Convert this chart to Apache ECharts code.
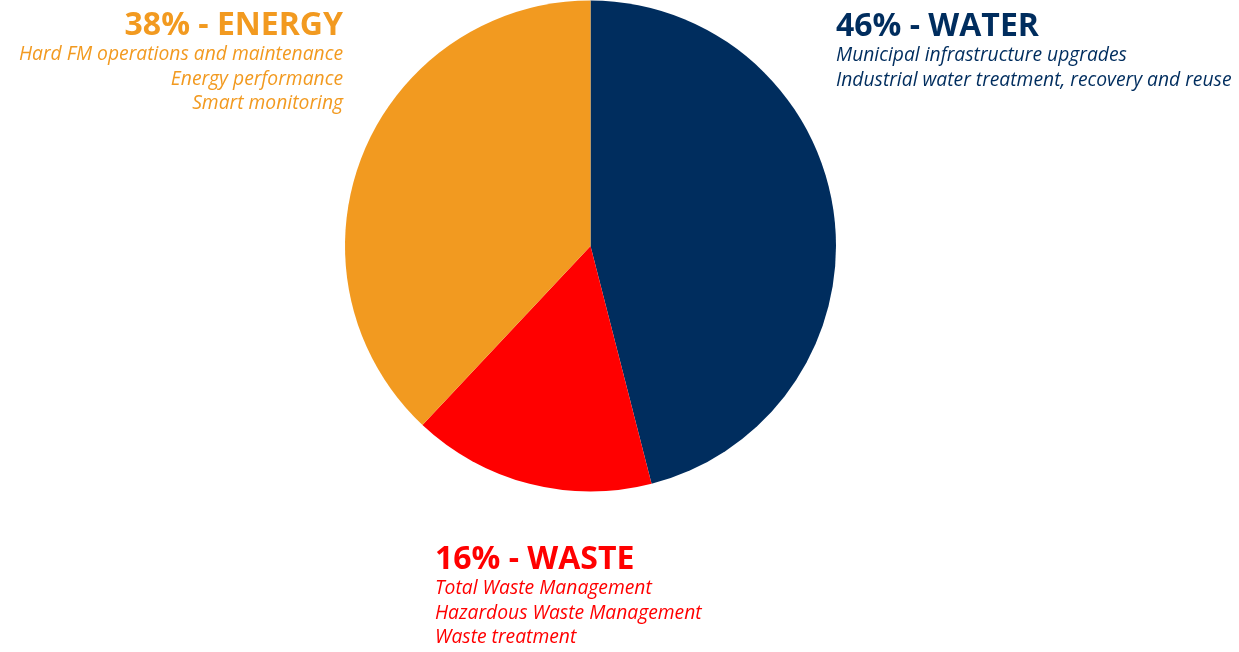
<!DOCTYPE html>
<html><head><meta charset="utf-8">
<script src="https://cdn.jsdelivr.net/npm/echarts@6/dist/echarts.min.js"></script>
<style>html,body{margin:0;padding:0;background:#fff}#c{width:1239px;height:652px}</style>
</head><body><div id="c"></div>
<script>
const categories = ['WATER', 'WASTE', 'ENERGY'];
const values = [46, 16, 38];
const colors = ['#002d5e', '#ff0000', '#f29a20'];
const subtitles = [
  ['Municipal infrastructure upgrades', 'Industrial water treatment, recovery and reuse'],
  ['Total Waste Management', 'Hazardous Waste Management', 'Waste treatment'],
  ['Hard FM operations and maintenance', 'Energy performance', 'Smart monitoring']
];
const labelPos = [
  {x: 836, y: 10.5, align: 'left'},
  {x: 435, y: 543.5, align: 'left'},
  {x: 343, y: 9.5, align: 'right'}
];
const chart = echarts.init(document.getElementById('c'));
const FONT = '"Open Sans", "Noto Sans", sans-serif';
const graphics = categories.map((c, i) => ({
  type: 'text',
  x: labelPos[i].x, y: labelPos[i].y,
  style: {
    text: '{t|' + values[i] + '% - ' + c + '}\n' + subtitles[i].map(s => '{s|' + s + '}').join('\n'),
    align: labelPos[i].align,
    verticalAlign: 'top',
    rich: {
      t: {fontFamily: FONT, fontWeight: 'bold', fontSize: 32, lineHeight: 33, fill: colors[i], align: labelPos[i].align},
      s: {fontFamily: FONT, fontStyle: 'italic', fontSize: 19.3, lineHeight: 24.5, fill: colors[i], align: labelPos[i].align}
    }
  }
}));
chart.setOption({
  animation: false,
  graphic: graphics,
  series: [{
    type: 'pie',
    center: [590.5, 246],
    radius: 245.5,
    startAngle: 90,
    clockwise: true,
    label: {show: false},
    labelLine: {show: false},
    itemStyle: {borderWidth: 0},
    emphasis: {disabled: true},
    data: categories.map((c, i) => ({name: c, value: values[i], itemStyle: {color: colors[i]}}))
  }]
});
</script></body></html>
